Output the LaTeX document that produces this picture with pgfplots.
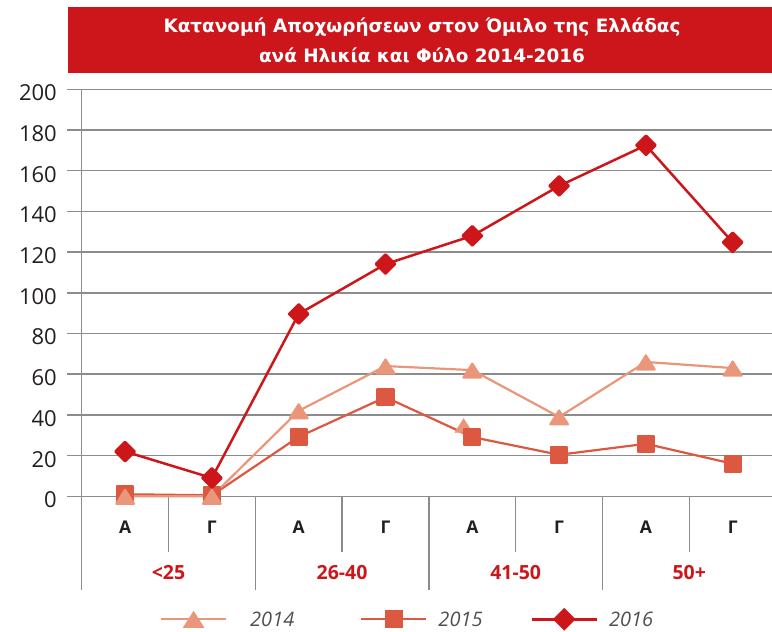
\documentclass[border=0pt]{standalone}
\usepackage{fontspec}
\setmainfont{Open Sans}
\newfontfamily\titlefont{DejaVu Sans}
\usepackage{pgfplots}
\pgfplotsset{compat=1.18}
\definecolor{r16}{RGB}{204,22,25}
\definecolor{r15}{RGB}{220,88,64}
\definecolor{r14}{RGB}{233,150,122}
\definecolor{gridc}{RGB}{140,140,140}
\definecolor{txt}{RGB}{35,31,32}
\definecolor{legt}{RGB}{80,80,80}
\definecolor{titlebg}{RGB}{204,22,27}
\begin{document}
\begin{tikzpicture}
\path[use as bounding box] (0,0) rectangle (772pt,632pt);
\fill[titlebg] (68pt,559pt) rectangle (790pt,625pt);
\node[anchor=base, text=white, inner sep=0pt, font=\titlefont\bfseries\fontsize{18.4}{20}\selectfont] at (422pt,599.3pt) {Κατανομή Αποχωρήσεων στον Όμιλο της Ελλάδας};
\node[anchor=base, text=white, inner sep=0pt, font=\titlefont\bfseries\fontsize{18.4}{20}\selectfont] at (422pt,569.3pt) {ανά Ηλικία και Φύλο 2014-2016};
\begin{axis}[
  at={(81.7pt,135.7pt)}, anchor=south west,
  scale only axis, width=694.4pt, height=407pt,
  xmin=-0.5, xmax=7.5, ymin=0, ymax=200,
  clip=false,
  axis line style={draw=none},
  ytick={0,20,...,200},
  ymajorgrids, grid style={gridc, line width=1.5pt},
  ytick pos=left, tick align=outside, major tick length=14.7pt,
  ytick style={gridc, line width=1.5pt},
  yticklabel style={font=\fontsize{22}{22}\selectfont, text=txt, anchor=east, inner sep=0pt, xshift=-10pt, yshift=-3.6pt},
  /pgf/number format/assume math mode=true,
  xtick={0,...,7}, xticklabels={Α,Γ,Α,Γ,Α,Γ,Α,Γ},
  xtick style={draw=none},
  xticklabel style={font=\bfseries\fontsize{17.5}{17.5}\selectfont, text=txt, anchor=base, yshift=-22.3pt, inner sep=0pt},
  legend columns=3,
  legend image code/.code={\draw[mark repeat=2,mark phase=2,#1] plot coordinates {(0pt,0pt) (32.5pt,0pt) (65pt,0pt)};},
  legend style={at={(0.1128,-0.3022)}, anchor=west, draw=none, fill=none, inner sep=0pt, outer sep=0pt,
    font=\itshape\fontsize{20}{20}\selectfont, text=legt,
    nodes={inner sep=0pt, text depth=0pt},
    /tikz/column 1/.style={column sep=23pt},
    /tikz/column 2/.style={column sep=66pt},
    /tikz/column 3/.style={column sep=11pt},
    /tikz/column 4/.style={column sep=48pt},
    /tikz/column 5/.style={column sep=11pt}},
]
\addlegendimage{r14, line width=2.2pt, mark=triangle*, mark size=9.3pt, mark options={solid, xscale=1.1, yshift=-2.8pt}}
\addlegendimage{r15, line width=2.2pt, mark=square*, mark size=8pt, mark options={solid}}
\addlegendimage{r16, line width=2.5pt, mark=square*, mark size=6.8pt, mark options={solid, rotate=45}}

\pgfplotsinvokeforeach{0.5,2.5,4.5,6.5}{\draw[gridc, line width=1.5pt] (axis cs:#1,0) -- ([yshift=-55.7pt]axis cs:#1,0);}
\pgfplotsinvokeforeach{1.5,3.5,5.5}{\draw[gridc, line width=1.5pt] (axis cs:#1,0) -- ([yshift=-93.7pt]axis cs:#1,0);}
\draw[gridc, line width=1.5pt] (axis cs:-0.5,200) -- ([yshift=-93.7pt]axis cs:-0.5,0);

\node[anchor=base, text=r16, font=\bfseries\fontsize{19.5}{19.5}\selectfont] at ([yshift=-83.7pt]axis cs:0.5,0) {<25};
\node[anchor=base, text=r16, font=\bfseries\fontsize{19.5}{19.5}\selectfont] at ([yshift=-83.7pt]axis cs:2.5,0) {26-40};
\node[anchor=base, text=r16, font=\bfseries\fontsize{19.5}{19.5}\selectfont] at ([yshift=-83.7pt]axis cs:4.5,0) {41-50};
\node[anchor=base, text=r16, font=\bfseries\fontsize{19.5}{19.5}\selectfont] at ([yshift=-83.7pt]axis cs:6.5,0) {50+};

\addplot[r14, only marks, mark=triangle*, mark size=9.3pt, mark options={solid, xscale=1.1, yshift=-2.8pt}, forget plot] coordinates {(3.9,35)};
\addplot[r15, line width=2.2pt, line join=round, mark=square*, mark size=8pt, mark options={solid}, forget plot]
  coordinates {(0,1) (1,0.5) (2,29.2) (3,48.7) (4,29.1) (5,20.4) (6,25.8) (7,16)};
\addplot[r14, line width=2.2pt, line join=round, mark=triangle*, mark size=9.3pt, mark options={solid, xscale=1.1, yshift=-2.8pt}, forget plot]
  coordinates {(0,0) (1,0) (2,42) (3,64) (4,62) (5,39) (6,66) (7,63)};
\addplot[r16, line width=2.5pt, line join=round, mark=square*, mark size=6.8pt, mark options={solid, rotate=45}, forget plot]
  coordinates {(0,22) (1,9) (2,89.6) (3,114.1) (4,128) (5,152.5) (6,172.5) (7,124.8)};
\legend{2014,2015,2016}
\end{axis}
\end{tikzpicture}
\end{document}
